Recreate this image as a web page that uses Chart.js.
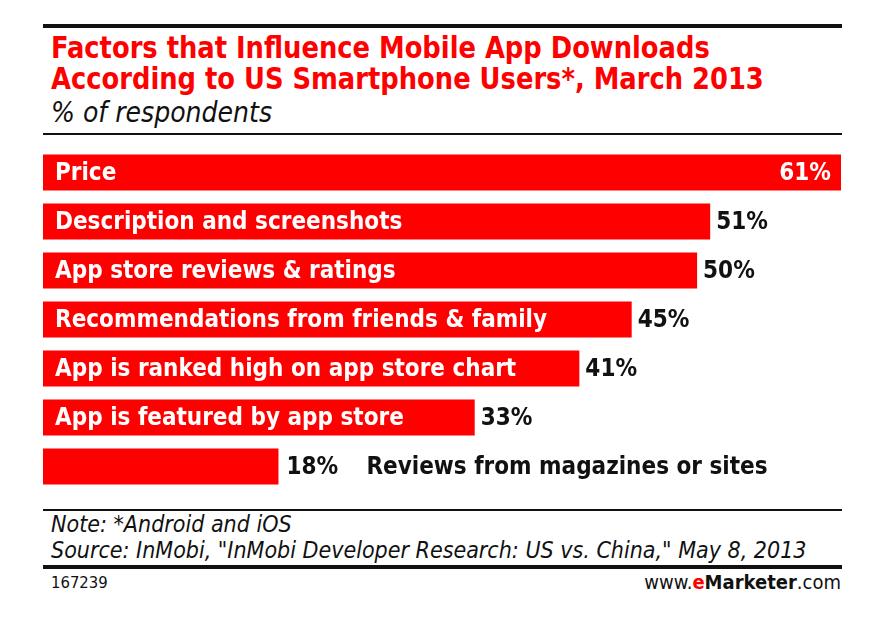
<!DOCTYPE html>
<html>
<head>
<meta charset="utf-8">
<script src="https://cdn.jsdelivr.net/npm/chart.js@4/dist/chart.umd.min.js"></script>
<style>
  body { margin: 0; background: #fff; width: 884px; height: 624px; overflow: hidden; position: relative; font-family: "DejaVu Sans Condensed", "Liberation Sans Narrow", sans-serif; }
  .rule { position: absolute; left: 43px; width: 799px; background: #111; }
  #title { position: absolute; left: 51px; top: 32px; color: #ff0000; font-weight: bold; font-size: 30px; line-height: 31px; transform: scaleX(0.955); transform-origin: left top; white-space: nowrap; }
  #subtitle { position: absolute; left: 51px; top: 96px; font-style: italic; font-size: 28px; color: #111; }
  #chartBox { position: absolute; left: 43px; top: 148px; width: 798px; height: 343px; }
  #notes { position: absolute; left: 51px; top: 511px; font-style: italic; font-size: 23px; line-height: 26px; color: #111; }
  #id { position: absolute; left: 51px; top: 573px; font-size: 16.5px; color: #111; }
  #brand { position: absolute; right: 43px; top: 570px; font-size: 20px; color: #111; }
  #brand b span { color: #ff0000; }
</style>
</head>
<body>
<div class="rule" style="top:24px;height:4px"></div>
<div id="title">Factors that Influence Mobile App Downloads<br>According to US Smartphone Users*, March 2013</div>
<div id="subtitle">% of respondents</div>
<div class="rule" style="top:133px;height:2px"></div>
<div id="chartBox"><canvas id="chart"></canvas></div>
<div class="rule" style="top:509px;height:2px"></div>
<div id="notes">Note: *Android and iOS<br>Source: InMobi, "InMobi Developer Research: US vs. China," May 8, 2013</div>
<div class="rule" style="top:565px;height:4px"></div>
<div id="id">167239</div>
<div id="brand">www.<b><span>e</span>Marketer</b>.com</div>
<script>
const categories = [
  'Price',
  'Description and screenshots',
  'App store reviews & ratings',
  'Recommendations from friends & family',
  'App is ranked high on app store chart',
  'App is featured by app store',
  'Reviews from magazines or sites'
];
const values = [61, 51, 50, 45, 41, 33, 18];

const labelFont = 'bold 24px "DejaVu Sans Condensed", "Liberation Sans Narrow", sans-serif';

// draws category names and values next to/inside the bars
const barLabels = {
  id: 'barLabels',
  afterDatasetsDraw(chart) {
    const ctx = chart.ctx;
    const meta = chart.getDatasetMeta(0);
    ctx.save();
    ctx.font = labelFont;
    ctx.textBaseline = 'middle';
    meta.data.forEach((bar, i) => {
      const y = bar.y + 1;
      const txt = values[i] + '%';
      const catW = ctx.measureText(categories[i]).width;
      const barW = bar.x - bar.base;
      if (i === 0) {
        ctx.fillStyle = '#fff';
        ctx.textAlign = 'left';
        ctx.fillText(categories[i], bar.base + 12, y);
        ctx.textAlign = 'right';
        ctx.fillText(txt, bar.x - 10, y);
      } else if (catW + 24 < barW) {
        ctx.fillStyle = '#fff';
        ctx.textAlign = 'left';
        ctx.fillText(categories[i], bar.base + 12, y);
        ctx.fillStyle = '#111';
        ctx.fillText(txt, bar.x + 6, y);
      } else {
        ctx.fillStyle = '#111';
        ctx.textAlign = 'left';
        ctx.fillText(txt, bar.x + 8, y);
        ctx.fillText(categories[i], bar.x + 88, y);
      }
    });
    ctx.restore();
  }
};

new Chart(document.getElementById('chart'), {
  type: 'bar',
  data: {
    labels: categories,
    datasets: [{
      data: values,
      backgroundColor: '#ff0000',
      borderWidth: 0,
      categoryPercentage: 1,
      barPercentage: 0.735
    }]
  },
  options: {
    indexAxis: 'y',
    responsive: true,
    maintainAspectRatio: false,
    animation: false,
    layout: { padding: 0 },
    scales: {
      x: { display: false, min: 0, max: 61 },
      y: { display: false }
    },
    plugins: {
      legend: { display: false },
      tooltip: { enabled: false }
    }
  },
  plugins: [barLabels]
});
</script>
</body>
</html>
